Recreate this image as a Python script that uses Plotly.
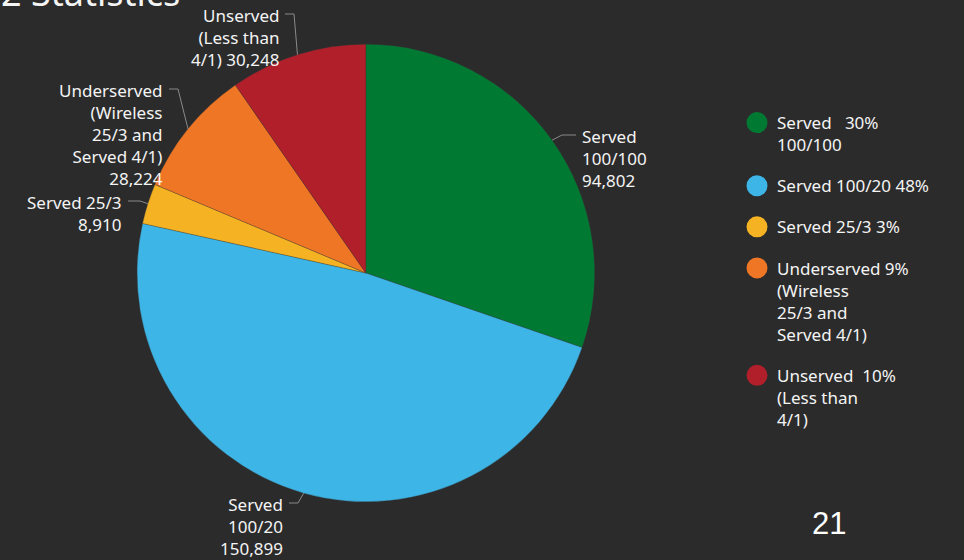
import math
import plotly.graph_objects as go

# ---- data ----
categories = ["Served 100/100", "Served 100/20", "Served 25/3", "Underserved", "Unserved"]
values = [94802, 150899, 8910, 28224, 30248]
slice_labels = [
    "Served<br>100/100<br>94,802",
    "Served<br>100/20<br>150,899",
    "Served 25/3<br>8,910",
    "Underserved<br>(Wireless<br>25/3 and<br>Served 4/1)<br>28,224",
    "Unserved<br>(Less than<br>4/1) 30,248",
]
legend_head = ["Served   ", "Served 100/20 ", "Served 25/3 ", "Underserved ", "Unserved  "]
legend_tail = ["<br>100/100", "", "", "<br>(Wireless<br>25/3 and<br>Served 4/1)", "<br>(Less than<br>4/1)"]
colors = ["#007a33", "#3db5e6", "#f5b324", "#ee7625", "#b01f2a"]

# ---- layout settings (pixels) ----
W, H = 964, 560
BG = "#2b2b2b"
FONT = "Noto Sans"
TXT = "#f4f4f4"
LBL_SIZE = 17
DOM_X = [0.142, 0.617]
DOM_Y = [0.104, 0.921]
# elbow of each leader line and length of its horizontal run (+ right, - left)
label_elbows = [(562, 135), (298, 503), (140, 201), (178, 89), (294, 14)]
label_runs = [14, -9, -12, -9, -9]

total = sum(values)
pcts = [round(v / total * 100) for v in values]
legend_names = [f"{h}{p}%{t}" for h, p, t in zip(legend_head, pcts, legend_tail)]

fig = go.Figure()
fig.add_trace(go.Pie(
    labels=categories,
    values=values,
    textinfo="none",
    sort=False,
    direction="clockwise",
    rotation=0,
    marker=dict(colors=colors, line=dict(color="#3a3a3a", width=0.3)),
    domain=dict(x=DOM_X, y=DOM_Y),
    showlegend=False,
    hoverinfo="label+value+percent",
))

for name, c in zip(legend_names, colors):
    fig.add_trace(go.Scatter(
        x=[None], y=[None], mode="markers", name=name,
        marker=dict(color=c, size=16, symbol="circle", line=dict(color=c, width=5)),
        legendgroup=name,
    ))

# geometry of the pie as plotly lays it out
cx = (DOM_X[0] + DOM_X[1]) / 2 * W
cy = (1 - (DOM_Y[0] + DOM_Y[1]) / 2) * H
r = min((DOM_X[1] - DOM_X[0]) * W, (DOM_Y[1] - DOM_Y[0]) * H) / 2

def px(x, y):
    return x / W, 1 - y / H

shapes = []
annotations = []
cum = 0
for val, txt, (ex, ey), run in zip(values, slice_labels, label_elbows, label_runs):
    ang = 2 * math.pi * (cum + val / 2) / total
    cum += val
    sx = cx + r * math.sin(ang)
    sy = cy - r * math.cos(ang)
    pts = [px(sx, sy), px(ex, ey), px(ex + run, ey)]
    path = "M {} {} L {} {} L {} {}".format(*[c for p in pts for c in p])
    shapes.append(dict(type="path", path=path, xref="paper", yref="paper",
                       line=dict(color="#8a8a8a", width=1)))
    tx, ty = px(ex + run + (4 if run > 0 else -4), ey - 12)
    annotations.append(dict(
        text=txt, x=tx, y=ty, xref="paper", yref="paper",
        xanchor="left" if run > 0 else "right", yanchor="top",
        align="left" if run > 0 else "right", showarrow=False,
        font=dict(family=FONT, size=LBL_SIZE, color=TXT),
    ))

tx, ty = px(182, 19)
annotations.append(dict(text="2 Statistics", x=tx, y=ty, xref="paper", yref="paper",
                        xanchor="right", yanchor="bottom", showarrow=False,
                        font=dict(family=FONT, size=36, color=TXT)))
tx, ty = px(829, 523)
annotations.append(dict(text="21", x=tx, y=ty, xref="paper", yref="paper",
                        xanchor="center", yanchor="middle", showarrow=False,
                        font=dict(family="Liberation Sans", size=31, color="#ffffff")))

lx, ly = px(737, 105)
fig.update_layout(
    width=W, height=H,
    margin=dict(l=0, r=0, t=0, b=0),
    paper_bgcolor=BG, plot_bgcolor=BG,
    xaxis=dict(visible=False), yaxis=dict(visible=False),
    legend=dict(
        x=lx, y=ly, xanchor="left", yanchor="top",
        font=dict(family=FONT, size=17, color=TXT),
        bgcolor="rgba(0,0,0,0)", valign="top",
        tracegroupgap=16, itemsizing="trace",
    ),
    shapes=shapes,
    annotations=annotations,
)

fig.write_html(
    "out.html",
    config={"displayModeBar": False},
    post_script="document.body.style.margin='0';document.body.style.padding='0';"
                "document.body.style.backgroundColor='#2b2b2b';"
                "document.documentElement.style.overflow='hidden';",
)
